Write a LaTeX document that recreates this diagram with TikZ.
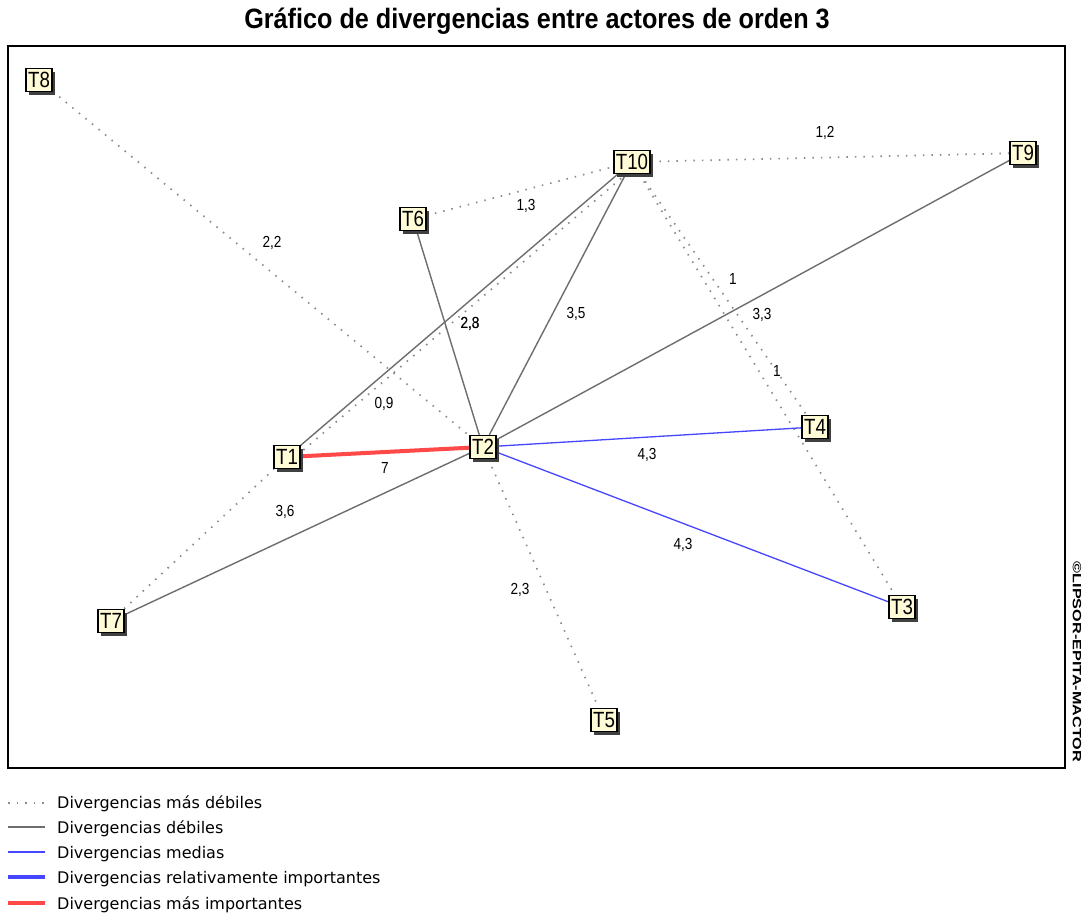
\documentclass[tikz,border=0pt]{standalone}
\usepackage{fontspec}
\setmainfont{Liberation Sans}
\newfontfamily\legendfont{DejaVu Sans}
\usetikzlibrary{shadows,backgrounds}
\definecolor{cream}{HTML}{FFFBD6}
\definecolor{weakgray}{HTML}{8C8C8C}
\definecolor{solidgray}{HTML}{6E6E6E}
\definecolor{midblue}{HTML}{4646FF}
\definecolor{strongred}{HTML}{FF4848}
\newcommand{\nrw}[2][0.8]{\scalebox{#1}[1]{#2}}
\tikzset{
  actor/.style={draw=black, line width=1.5pt, fill=cream, inner xsep=2pt, inner ysep=0pt,
    minimum height=23pt, font=\fontsize{22}{22}\selectfont,
    drop shadow={shadow xshift=3pt, shadow yshift=-3pt, fill=black!75, opacity=1}},
  val/.style={font=\fontsize{16}{16}\selectfont, inner sep=0pt},
  weakest/.style={draw=weakgray, line width=1.7pt, dash pattern=on 1.5pt off 7pt},
  weak/.style={draw=solidgray, line width=1.4pt},
  medium/.style={draw=midblue, line width=1.3pt},
  relimp/.style={draw=midblue, line width=3.2pt},
  strongest/.style={draw=strongred, line width=4pt},
  legtext/.style={anchor=west, inner sep=0pt, font=\legendfont\fontsize{16}{16}\selectfont},
}
\begin{document}
\begin{tikzpicture}[x=1pt, y=-1pt]
\useasboundingbox (0,0) rectangle (1089,921);

% title and frame
\node (title) at (537,21) {\nrw[0.9]{\fontsize{28}{28}\selectfont\bfseries Gráfico de divergencias entre actores de orden 3}};
\draw[line width=1.6pt] (8,46) rectangle (1065,768);
\node[rotate=-90, inner sep=0pt] (copy) at (1077,662) {\nrw[1.35]{\fontsize{12}{12}\selectfont\bfseries ©LIPSOR-EPITA-MACTOR}};

% actors
\node[actor] (T8)  at (39,80)   {\nrw[0.85]{T8}};
\node[actor] (T10) at (632,162) {\nrw[0.85]{T10}};
\node[actor] (T9)  at (1023,153) {\nrw[0.85]{T9}};
\node[actor] (T6)  at (413,219) {\nrw[0.85]{T6}};
\node[actor] (T1)  at (287,457) {\nrw[0.85]{T1}};
\node[actor] (T2)  at (483,447) {\nrw[0.85]{T2}};
\node[actor] (T4)  at (815,427) {\nrw[0.85]{T4}};
\node[actor] (T7)  at (111,621) {\nrw[0.85]{T7}};
\node[actor] (T3)  at (902,607) {\nrw[0.85]{T3}};
\node[actor] (T5)  at (604,720) {\nrw[0.85]{T5}};

% divergence links
\begin{scope}[on background layer]
  \fill[white] (0,0) rectangle (1089,921);
  \draw[weakest] (T8) -- (T2);
  \draw[weakest] (T10) -- (T9);
  \draw[weakest] (T6) -- (T10);
  \draw[weakest] (T10) -- (T4);
  \draw[weakest] (T10) -- (T3);
  \draw[weakest] ([xshift=3.5pt,yshift=-4pt]T1.center) -- ([xshift=3.5pt,yshift=-4pt]T10.center);
  \draw[weakest] (T7) -- (T1);
  \draw[weakest] (T2) -- (T5);
  \draw[weak] (T1) -- (T10);
  \draw[weak] (T6) -- (T2);
  \draw[weak] (T10) -- (T2);
  \draw[weak] (T9) -- (T2);
  \draw[weak] (T7) -- (T2);
  \draw[medium] (T2) -- (T4);
  \draw[medium] (T2) -- (T3);
  \draw[strongest] (T1) -- (T2);
\end{scope}

% values
\node[val] (v1) at (825,133) {\nrw[0.85]{1,2}};
\node[val] (v2) at (526,206) {\nrw[0.85]{1,3}};
\node[val] (v3) at (272,243) {\nrw[0.85]{2,2}};
\node[val] (v4) at (470,324) {\nrw[0.85]{2,8}};
\node[val] (v5) at (470,324) {\nrw[0.85]{2,3}};
\node[val] (v6) at (576,314) {\nrw[0.85]{3,5}};
\node[val] (v7) at (733,279) {\nrw[0.85]{1}};
\node[val] (v8) at (762,315) {\nrw[0.85]{3,3}};
\node[val] (v9) at (777,371) {\nrw[0.85]{1}};
\node[val] (v10) at (384,404) {\nrw[0.85]{0,9}};
\node[val] (v11) at (385,468) {\nrw[0.85]{7}};
\node[val] (v12) at (647,455) {\nrw[0.85]{4,3}};
\node[val] (v13) at (285,512) {\nrw[0.85]{3,6}};
\node[val] (v14) at (683,545) {\nrw[0.85]{4,3}};
\node[val] (v15) at (520,590) {\nrw[0.85]{2,3}};

% legend
\coordinate (la1) at (8,803);  \coordinate (lb1) at (45,803);
\coordinate (la2) at (8,827);  \coordinate (lb2) at (45,827);
\coordinate (la3) at (8,852);  \coordinate (lb3) at (45,852);
\coordinate (la4) at (8,877);  \coordinate (lb4) at (45,877);
\coordinate (la5) at (8,903);  \coordinate (lb5) at (45,903);
\draw[weakest] (la1) -- (lb1);
\draw[weak] (la2) -- (lb2);
\draw[medium] (la3) -- (lb3);
\draw[relimp] (la4) -- (lb4);
\draw[strongest] (la5) -- (lb5);
\node[legtext] (l1) at (57,804) {Divergencias más débiles};
\node[legtext] (l2) at (57,829) {Divergencias débiles};
\node[legtext] (l3) at (57,854) {Divergencias medias};
\node[legtext] (l4) at (57,879) {Divergencias relativamente importantes};
\node[legtext] (l5) at (57,905) {Divergencias más importantes};
\end{tikzpicture}
\end{document}
